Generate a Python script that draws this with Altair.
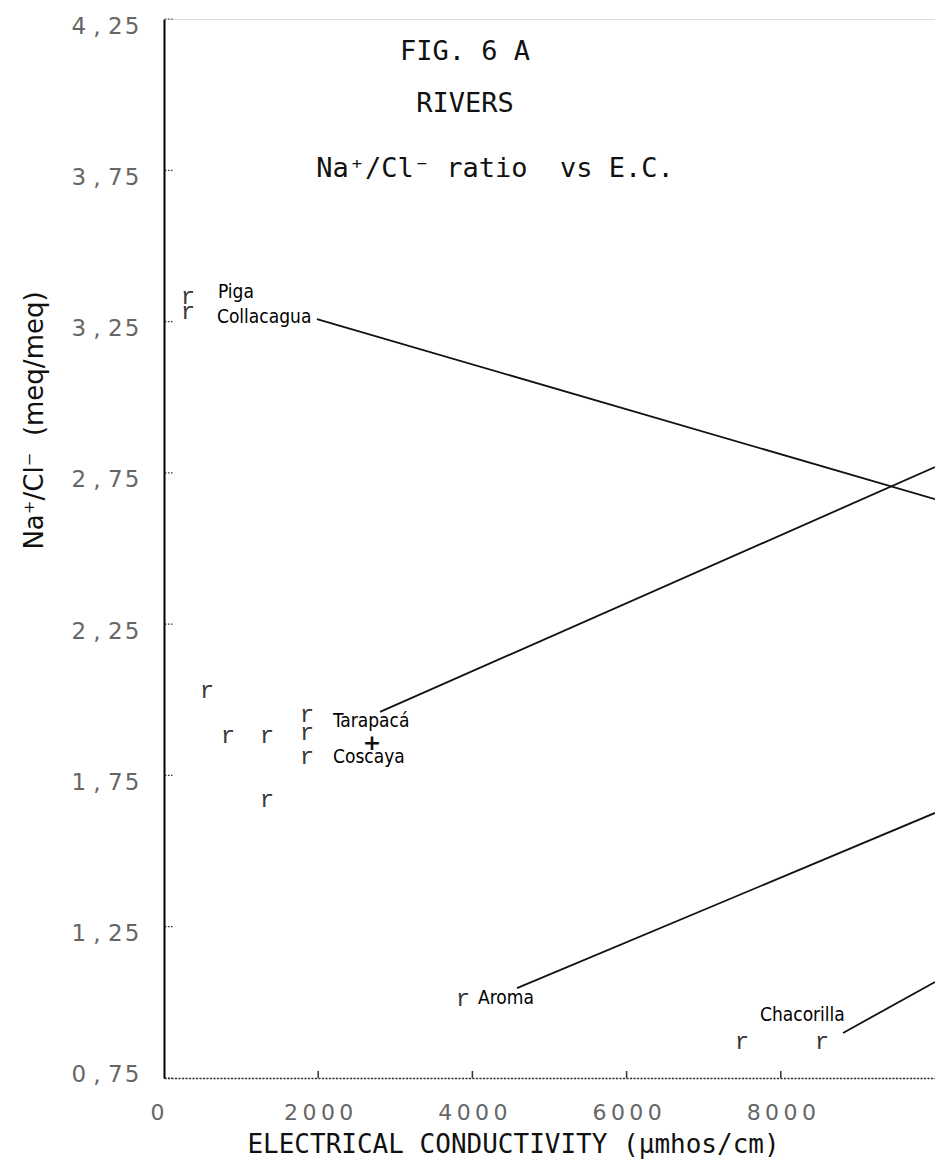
import altair as alt
import pandas as pd

# River samples: electrical conductivity (umhos/cm) vs Na+/Cl- ratio (meq/meq)
ec_values = [311, 311, 558, 830, 1336, 1336, 1855, 1855, 1855, 3878, 7497, 8534]
ratio_values = [3.33, 3.28, 2.03, 1.88, 1.88, 1.67, 1.95, 1.89, 1.81, 1.01, 0.87, 0.87]

# Tarapacá + Coscaya composite sample
cross_ec = [2698]
cross_ratio = [1.857]

# River name labels (left edge of text, vertical centre)
label_names = ["Piga", "Collacagua", "Tarapacá", "Coscaya", "Aroma", "Chacorilla"]
label_ec = [700, 687, 2192, 2192, 4073, 7730]
label_ratio = [3.348, 3.265, 1.930, 1.811, 1.014, 0.958]

# Leader lines running from a label towards its sample further right
leader_ec_start = [1984, 2802, 4578, 8807]
leader_ratio_start = [3.258, 1.960, 1.047, 0.899]
leader_ec_end = [10000, 10000, 10000, 10000]
leader_ratio_end = [2.663, 2.769, 1.626, 1.067]

y_tick_values = [0.75, 1.25, 1.75, 2.25, 2.75, 3.25, 3.75, 4.25]
x_tick_values = [0, 2000, 4000, 6000, 8000]

W, H = 771, 1059
X_DOMAIN = [0, 10000]
Y_DOMAIN = [0.75, 4.25]

points = pd.DataFrame({"ec": ec_values, "ratio": ratio_values})
cross = pd.DataFrame({"ec": cross_ec, "ratio": cross_ratio})
labels = pd.DataFrame({"name": label_names, "ec": label_ec, "ratio": label_ratio})
leaders = pd.DataFrame({
    "ec": leader_ec_start, "ratio": leader_ratio_start,
    "ec2": leader_ec_end, "ratio2": leader_ratio_end,
})
yticks = pd.DataFrame({"v": y_tick_values})
xticks = pd.DataFrame({"v": x_tick_values[1:]})

xscale = alt.Scale(domain=X_DOMAIN, nice=False, zero=False)
yscale = alt.Scale(domain=Y_DOMAIN, nice=False, zero=False)

x_label_expr = (
    "datum.value == 0 ? '0' : "
    "substring(format(datum.value,'d'),0,1) + '\u2009' + "
    "substring(format(datum.value,'d'),1,2) + '\u2009' + "
    "substring(format(datum.value,'d'),2,3) + '\u2009' + "
    "substring(format(datum.value,'d'),3,4)"
)
y_label_expr = (
    "substring(format(datum.value,'.2f'),0,1) + ' , ' + "
    "substring(format(datum.value,'.2f'),2,3) + '\u200a' + "
    "substring(format(datum.value,'.2f'),3,4)"
)

x_axis = alt.Axis(
    values=x_tick_values, ticks=False, grid=False, labelFlush=False,
    labelExpr=x_label_expr, labelFont="DejaVu Sans", labelFontSize=22,
    labelColor="#666666", labelPadding=24, labelBaseline="top",
    labelAlign={"expr": "datum.value == 0 ? 'right' : 'center'"},
    domainColor="#333333", domainWidth=1.5, domainDash=[2, 1.5],
    title="ELECTRICAL CONDUCTIVITY (\u00b5mhos/cm)",
    titleFont="DejaVu Sans Mono", titleFontSize=26, titleFontWeight="normal",
    titleColor="#111111", titleX=349, titleY=66, titleAlign="center",
    titleBaseline="middle",
)
y_axis = alt.Axis(
    values=y_tick_values, ticks=False, grid=False, labelFlush=False,
    labelExpr=y_label_expr, labelFont="DejaVu Sans", labelFontSize=23,
    labelColor="#666666", labelPadding=25,
    labelOffset={"expr": "datum.value < 1 ? -4 : 7"},
    domainColor="#000000", domainWidth=2,
    title="Na\u207a/Cl\u207b\u00a0\u00a0(meq/meq)",
    titleFont="DejaVu Sans", titleFontSize=26, titleFontWeight="normal",
    titleColor="#111111", titleAngle=270, titleX=-130, titleY=401,
    titleAlign="center", titleBaseline="middle",
)

base_x = alt.X("ec:Q", scale=xscale, axis=x_axis)
base_y = alt.Y("ratio:Q", scale=yscale, axis=y_axis)

markers = alt.Chart(points).mark_text(
    text="r", font="Liberation Mono", fontSize=24, color="#3a3a3a",
    align="center", baseline="middle",
).encode(x=base_x, y=base_y)

cross_mark = alt.Chart(cross).mark_text(
    text="+", font="DejaVu Sans", fontSize=22, fontWeight="bold",
    color="#111111", align="center", baseline="middle",
).encode(x=alt.X("ec:Q", scale=xscale), y=alt.Y("ratio:Q", scale=yscale))

name_labels = alt.Chart(labels).mark_text(
    font="DejaVu Sans Condensed", fontSize=19, color="#000000",
    align="left", baseline="middle",
).encode(
    x=alt.X("ec:Q", scale=xscale), y=alt.Y("ratio:Q", scale=yscale),
    text="name:N",
)

leader_lines = alt.Chart(leaders).mark_rule(color="#111111", strokeWidth=1.8).encode(
    x=alt.X("ec:Q", scale=xscale), y=alt.Y("ratio:Q", scale=yscale),
    x2="ec2:Q", y2="ratio2:Q",
)

# inward-pointing tick marks on both axes
y_tick_marks = alt.Chart(yticks).mark_rule(
    color="#333333", strokeWidth=1.2, strokeDash=[1.5, 1.5]
).encode(y=alt.Y("v:Q", scale=yscale), x=alt.value(1), x2=alt.value(9))

x_tick_marks = alt.Chart(xticks).mark_rule(
    color="#333333", strokeWidth=1.5
).encode(x=alt.X("v:Q", scale=xscale), y=alt.value(H), y2=alt.value(H - 7))

title_font = dict(font="DejaVu Sans Mono", fontSize=27, color="#111111",
                  align="center", baseline="alphabetic")
title1 = alt.Chart(pd.DataFrame({"t": ["FIG. 6 A"]})).mark_text(**title_font).encode(
    text="t:N", x=alt.value(301), y=alt.value(41))
title2 = alt.Chart(pd.DataFrame({"t": ["RIVERS"]})).mark_text(**title_font).encode(
    text="t:N", x=alt.value(301), y=alt.value(93))
title3 = alt.Chart(pd.DataFrame({"t": ["Na\u207a/Cl\u207b ratio\u00a0\u00a0vs E.C."]})).mark_text(
    **title_font).encode(text="t:N", x=alt.value(331), y=alt.value(158))

chart = alt.layer(
    markers, cross_mark, name_labels, leader_lines,
    y_tick_marks, x_tick_marks, title1, title2, title3,
).properties(
    width=W, height=H,
    padding={"left": 164, "top": 19, "right": 0, "bottom": 98},
    autosize="none",
).configure_view(stroke=None).configure(background="white")

chart.save("out.html", embed_options={"renderer": "svg", "actions": False})
